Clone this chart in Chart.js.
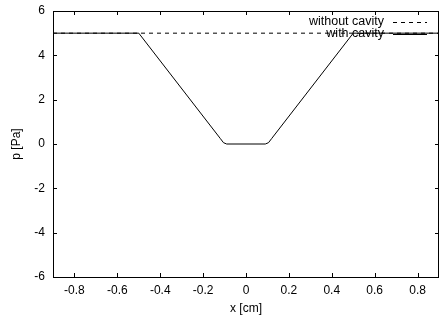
<!DOCTYPE html>
<html>
<head>
<meta charset="utf-8">
<script src="https://cdn.jsdelivr.net/npm/chart.js@4.4.0/dist/chart.umd.min.js"></script>
<style>
  html, body { margin: 0; padding: 0; background: #fff; }
  #wrap { width: 440px; height: 320px; }
</style>
</head>
<body>
<div id="wrap"><canvas id="chart" width="440" height="320"></canvas></div>
<script>
// reference line (no cavity)
const xFlat = [-0.9, 0.9];
const pFlat = [5, 5];
// pressure profile with cavity
const xCavity = [-0.9, -0.5, -0.12, -0.105, -0.09, 0.09, 0.105, 0.12, 0.5, 0.9];
const pCavity = [5, 5, 0.25, 0.06, 0, 0, 0.06, 0.25, 5, 5];

const xTicks = [-0.8, -0.6, -0.4, -0.2, 0, 0.2, 0.4, 0.6, 0.8];
const yTicks = [-6, -4, -2, 0, 2, 4, 6];

const fontFamily = '"Liberation Sans", Arial, sans-serif';

function pts(xs, ys) {
	return xs.map(function (x, i) { return {x: x, y: ys[i]}; });
}

// gnuplot-like frame, inward ticks and legend (text left of sample)
const gnuFrame = {
	id: 'gnuFrame',
	afterDatasetsDraw: function (chart) {
		const ctx = chart.ctx;
		const a = chart.chartArea;
		const sx = chart.scales.x, sy = chart.scales.y;
		ctx.save();
		ctx.strokeStyle = '#000';
		ctx.lineWidth = 1;
		ctx.beginPath();
		xTicks.forEach(function (v) {
			const px = Math.round(sx.getPixelForValue(v)) + 0.5;
			ctx.moveTo(px, a.bottom); ctx.lineTo(px, a.bottom - 4);
			ctx.moveTo(px, a.top); ctx.lineTo(px, a.top + 4);
		});
		yTicks.forEach(function (v) {
			const py = Math.round(sy.getPixelForValue(v)) + 0.5;
			ctx.moveTo(a.left, py); ctx.lineTo(a.left + 4, py);
			ctx.moveTo(a.right, py); ctx.lineTo(a.right - 4, py);
		});
		ctx.stroke();
		ctx.strokeRect(Math.round(a.left) + 0.5, Math.round(a.top) + 0.5,
			Math.round(a.right - a.left) - 1, Math.round(a.bottom - a.top));

		// legend
		ctx.font = '12.5px ' + fontFamily;
		ctx.fillStyle = '#000';
		ctx.textAlign = 'right';
		ctx.textBaseline = 'middle';
		chart.data.datasets.forEach(function (ds, i) {
			const y = a.top + 11 + i * 11.5;
			ctx.fillText(ds.label, 384, y);
			ctx.beginPath();
			ctx.setLineDash(ds.borderDash || []);
			ctx.moveTo(393, Math.round(y) + 0.5);
			ctx.lineTo(427, Math.round(y) + 0.5);
			ctx.stroke();
		});
		ctx.restore();
	}
};

const ctx = document.getElementById('chart').getContext('2d');
const chart = new Chart(ctx, {
	type: 'scatter',
	data: {
		datasets: [{
			label: 'without cavity',
			data: pts(xFlat, pFlat),
			showLine: true,
			borderColor: '#000',
			borderWidth: 1,
			borderDash: [4, 4],
			pointRadius: 0
		}, {
			label: 'with cavity',
			data: pts(xCavity, pCavity),
			showLine: true,
			borderColor: '#000',
			borderWidth: 1,
			pointRadius: 0
		}]
	},
	options: {
		responsive: false,
		animation: false,
		layout: { padding: { left: 0, top: 11, right: 1, bottom: 0 } },
		plugins: { legend: { display: false }, tooltip: { enabled: false } },
		scales: {
			x: {
				type: 'linear',
				min: -0.9,
				max: 0.9,
				afterBuildTicks: function (scale) {
					scale.ticks = xTicks.map(function (v) { return {value: v}; });
				},
				afterFit: function (scale) {
					scale.height = 43;
					scale.paddingLeft = 0;
					scale.paddingRight = 0;
				},
				grid: { display: false, drawTicks: false },
				border: { display: false },
				ticks: {
					padding: 6,
					color: '#000',
					font: { family: fontFamily, size: 12 },
					callback: function (v) { return String(Math.round(v * 10) / 10); }
				},
				title: {
					display: true,
					text: 'x [cm]',
					color: '#000',
					font: { family: fontFamily, size: 12 },
					padding: { top: 2, bottom: 4 }
				}
			},
			y: {
				min: -6,
				max: 6,
				afterBuildTicks: function (scale) {
					scale.ticks = yTicks.map(function (v) { return {value: v}; });
				},
				afterFit: function (scale) {
					scale.width = 53;
					scale.paddingTop = 0;
					scale.paddingBottom = 0;
				},
				grid: { display: false, drawTicks: false },
				border: { display: false },
				ticks: {
					padding: 8,
					color: '#000',
					font: { family: fontFamily, size: 12 }
				},
				title: {
					display: true,
					text: 'p [Pa]',
					color: '#000',
					font: { family: fontFamily, size: 12 },
					padding: { top: 9, bottom: 0 }
				}
			}
		}
	},
	plugins: [gnuFrame]
});
</script>
</body>
</html>
